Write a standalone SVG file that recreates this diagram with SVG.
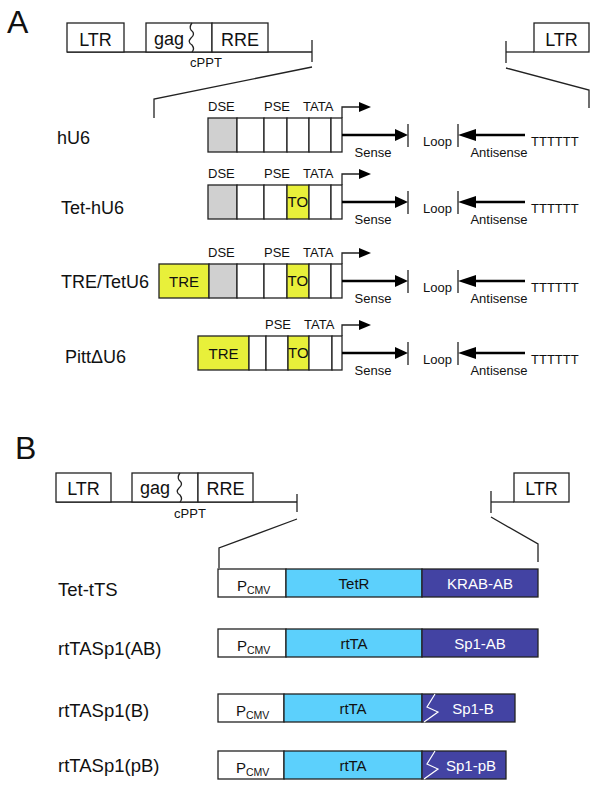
<svg xmlns="http://www.w3.org/2000/svg" width="600" height="786" viewBox="0 0 600 786">
<style>
text{font-family:"Liberation Sans",Arial,sans-serif;fill:#111}
.bx{fill:#fff;stroke:#222;stroke-width:1.3}
.gr{fill:#d0d0d0;stroke:#222;stroke-width:1.3}
.ye{fill:#e8f03a;stroke:#222;stroke-width:1.3}
.cy{fill:#5cd0fc;stroke:#222;stroke-width:1.3}
.db{fill:#4343a3;stroke:#222;stroke-width:1.3}
.ln{fill:none;stroke:#222;stroke-width:1.3}
.th{fill:none;stroke:#000;stroke-width:2.6}
.hd{fill:#000}
.big{font-size:32px}
.lab{font-size:18px}
.bl{font-size:18px}
.rl{font-size:18.5px}
.sm{font-size:13px}
.in{font-size:15px}
.wt{fill:#fff}
</style>
<defs>
<g id="tail">
<polyline class="ln" points="342,0 342,-11 360,-11"/>
<polygon class="hd" points="359,-16 371,-11 359,-6"/>
<line class="th" x1="342" y1="17" x2="396" y2="17"/>
<polygon class="hd" points="395,11 408,17 395,23"/>
<line class="ln" x1="408" y1="6" x2="408" y2="29" stroke-width="1.5"/>
<text class="sm" x="373" y="39" text-anchor="middle">Sense</text>
<text class="sm" x="423" y="28">Loop</text>
<line class="ln" x1="458" y1="6" x2="458" y2="29" stroke-width="1.5"/>
<polygon class="hd" points="458,17 476,11 476,23"/>
<line class="th" x1="475" y1="17" x2="525" y2="17"/>
<text class="sm" x="499" y="39" text-anchor="middle">Antisense</text>
<text class="sm" x="531" y="28" fill="#000">TTTTTT</text>
</g>
</defs>

<!-- Panel A vector -->
<g id="panelA-vector">
<text class="big" x="7" y="33">A</text>
<line class="ln" x1="67" y1="52" x2="312" y2="52"/>
<rect class="bx" x="67" y="23" width="57" height="29"/>
<text class="bl" x="95.5" y="46" text-anchor="middle">LTR</text>
<rect class="bx" x="146" y="23" width="66" height="29"/>
<text class="bl" x="154" y="45">gag</text>
<path class="ln" d="M192,23 Q189,27 191,30 Q196,34 191,38 Q187,42 192,45 Q195,49 192,52"/>
<rect class="bx" x="212" y="23" width="56" height="29"/>
<text class="bl" x="240" y="46" text-anchor="middle">RRE</text>
<line class="ln" x1="312" y1="40" x2="312" y2="62"/>
<text class="sm" x="206" y="67" text-anchor="middle">cPPT</text>
<line class="ln" x1="506" y1="52" x2="534" y2="52"/>
<line class="ln" x1="506" y1="41" x2="506" y2="63"/>
<rect class="bx" x="534" y="23" width="55" height="29"/>
<text class="bl" x="561.5" y="46" text-anchor="middle">LTR</text>
</g>

<g id="connectors">
<polyline class="ln" points="312,67 154,99 154,118"/>
<polyline class="ln" points="506,68 589,90 589,108"/>
<polyline class="ln" points="297,519 219,548 219,568"/>
<polyline class="ln" points="491,517 538,544 538,562"/>
</g>

<!-- hU6 -->
<g id="hU6">
<text class="lab" x="57" y="144">hU6</text>
<g transform="translate(0,118)">
<text class="sm" x="208" y="-7">DSE</text>
<text class="sm" x="264" y="-7">PSE</text>
<text class="sm" x="303" y="-7">TATA</text>
<rect class="gr" x="208" y="0" width="29" height="34"/>
<rect class="bx" x="237" y="0" width="27" height="34"/>
<rect class="bx" x="264" y="0" width="23" height="34"/>
<rect class="bx" x="287" y="0" width="22" height="34"/>
<rect class="bx" x="309" y="0" width="22" height="34"/>
<rect class="bx" x="331" y="0" width="11" height="34"/>
<use href="#tail"/>
</g>
</g>

<!-- Tet-hU6 -->
<g id="Tet-hU6">
<text class="lab" x="61" y="214">Tet-hU6</text>
<g transform="translate(0,185)">
<text class="sm" x="208" y="-7">DSE</text>
<text class="sm" x="264" y="-7">PSE</text>
<text class="sm" x="303" y="-7">TATA</text>
<rect class="gr" x="208" y="0" width="29" height="34"/>
<rect class="bx" x="237" y="0" width="27" height="34"/>
<rect class="bx" x="264" y="0" width="23" height="34"/>
<rect class="ye" x="287" y="0" width="22" height="34"/>
<text class="in" x="287.5" y="22">TO</text>
<rect class="bx" x="309" y="0" width="22" height="34"/>
<rect class="bx" x="331" y="0" width="11" height="34"/>
<use href="#tail"/>
</g>
</g>

<!-- TRE/TetU6 -->
<g id="TRE-TetU6">
<text class="lab" x="61" y="288">TRE/TetU6</text>
<g transform="translate(0,264)">
<text class="sm" x="208" y="-7">DSE</text>
<text class="sm" x="264" y="-7">PSE</text>
<text class="sm" x="303" y="-7">TATA</text>
<rect class="ye" x="159" y="0" width="50" height="34"/>
<text class="in" x="184" y="22.5" text-anchor="middle">TRE</text>
<rect class="gr" x="209" y="0" width="28" height="34"/>
<rect class="bx" x="237" y="0" width="27" height="34"/>
<rect class="bx" x="264" y="0" width="23" height="34"/>
<rect class="ye" x="287" y="0" width="22" height="34"/>
<text class="in" x="287.5" y="22">TO</text>
<rect class="bx" x="309" y="0" width="22" height="34"/>
<rect class="bx" x="331" y="0" width="11" height="34"/>
<use href="#tail"/>
</g>
</g>

<!-- PittΔU6 -->
<g id="PittDeltaU6">
<text class="lab" x="65" y="363">PittΔU6</text>
<g transform="translate(0,336)">
<text class="sm" x="265" y="-7">PSE</text>
<text class="sm" x="304" y="-7">TATA</text>
<rect class="ye" x="198" y="0" width="51" height="34"/>
<text class="in" x="223.5" y="22.5" text-anchor="middle">TRE</text>
<rect class="bx" x="249" y="0" width="17" height="34"/>
<rect class="bx" x="266" y="0" width="22" height="34"/>
<rect class="ye" x="288" y="0" width="21" height="34"/>
<text class="in" x="288" y="22">TO</text>
<rect class="bx" x="309" y="0" width="23" height="34"/>
<rect class="bx" x="332" y="0" width="10" height="34"/>
<use href="#tail"/>
</g>
</g>

<!-- Panel B vector -->
<g id="panelB-vector">
<text class="big" x="15" y="459">B</text>
<line class="ln" x1="56" y1="502" x2="297" y2="502"/>
<rect class="bx" x="56" y="473" width="55" height="29"/>
<text class="bl" x="83.5" y="495" text-anchor="middle">LTR</text>
<rect class="bx" x="132" y="473" width="66" height="29"/>
<text class="bl" x="140" y="494">gag</text>
<path class="ln" d="M180,473 Q177,477 179,480 Q184,484 179,488 Q175,492 180,495 Q183,499 180,502"/>
<rect class="bx" x="198" y="473" width="55" height="29"/>
<text class="bl" x="225.5" y="495" text-anchor="middle">RRE</text>
<line class="ln" x1="297" y1="494" x2="297" y2="512"/>
<text class="sm" x="190" y="518" text-anchor="middle">cPPT</text>
<line class="ln" x1="491" y1="502" x2="514" y2="502"/>
<line class="ln" x1="491" y1="491" x2="491" y2="513"/>
<rect class="bx" x="514" y="473" width="55" height="29"/>
<text class="bl" x="541.5" y="495" text-anchor="middle">LTR</text>
</g>

<!-- Tet-tTS -->
<g id="Tet-tTS">
<text class="rl" x="58" y="596">Tet-tTS</text>
<rect class="bx" x="218" y="569" width="68" height="28"/>
<text x="237" y="591" font-size="15">P<tspan font-size="10.5" dy="3">CMV</tspan></text>
<rect class="cy" x="286" y="569" width="136" height="28"/>
<text class="in" x="354" y="588.5" text-anchor="middle">TetR</text>
<rect class="db" x="422" y="569" width="116" height="28"/>
<text class="in wt" x="480" y="588.5" text-anchor="middle">KRAB-AB</text>
</g>

<!-- rtTASp1(AB) -->
<g id="rtTASp1-AB">
<text class="rl" x="58" y="655">rtTASp1(AB)</text>
<rect class="bx" x="218" y="629" width="68" height="28"/>
<text x="237" y="651" font-size="15">P<tspan font-size="10.5" dy="3">CMV</tspan></text>
<rect class="cy" x="286" y="629" width="136" height="28"/>
<text class="in" x="354" y="648.5" text-anchor="middle">rtTA</text>
<rect class="db" x="422" y="629" width="116" height="28"/>
<text class="in wt" x="480" y="648.5" text-anchor="middle">Sp1-AB</text>
</g>

<!-- rtTASp1(B) -->
<g id="rtTASp1-B">
<text class="rl" x="58" y="717">rtTASp1(B)</text>
<rect class="bx" x="218" y="694" width="66" height="28"/>
<text x="236" y="716" font-size="15">P<tspan font-size="10.5" dy="3">CMV</tspan></text>
<rect class="cy" x="284" y="694" width="138" height="28"/>
<text class="in" x="353" y="713.5" text-anchor="middle">rtTA</text>
<rect class="db" x="422" y="694" width="93" height="28"/>
<path d="M435,694 L427,707 L438,712 L424,722" fill="none" stroke="#fff" stroke-width="1.2"/>
<text class="in wt" x="473" y="713.5" text-anchor="middle">Sp1-B</text>
</g>

<!-- rtTASp1(pB) -->
<g id="rtTASp1-pB">
<text class="rl" x="58" y="772">rtTASp1(pB)</text>
<rect class="bx" x="218" y="751" width="66" height="28"/>
<text x="236" y="773" font-size="15">P<tspan font-size="10.5" dy="3">CMV</tspan></text>
<rect class="cy" x="284" y="751" width="138" height="28"/>
<text class="in" x="353" y="770.5" text-anchor="middle">rtTA</text>
<rect class="db" x="422" y="751" width="84" height="28"/>
<path d="M435,751 L427,764 L438,769 L424,779" fill="none" stroke="#fff" stroke-width="1.2"/>
<text class="in wt" x="471" y="770.5" text-anchor="middle">Sp1-pB</text>
</g>
</svg>
